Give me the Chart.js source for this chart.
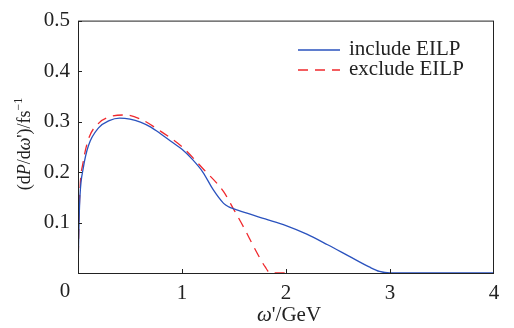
<!DOCTYPE html>
<html>
<head>
<meta charset="utf-8">
<script src="https://cdn.jsdelivr.net/npm/chart.js@4/dist/chart.umd.min.js"></script>
<style>
  html, body { margin: 0; padding: 0; background: #fff; }
  #wrap { width: 514px; height: 328px; position: relative; }
</style>
</head>
<body>
<div id="wrap"><canvas id="chart"></canvas></div>
<script>
// include EILP (blue, solid)
const omegaInclude = [0, 0.01, 0.02, 0.05, 0.1, 0.2, 0.3, 0.4, 0.5, 0.6, 0.7, 0.8, 0.9, 1.0, 1.1, 1.2, 1.3, 1.4, 1.45, 1.5, 1.6, 1.8, 2.0, 2.2, 2.4, 2.6, 2.8, 2.9, 3.0, 3.5, 4.0];
const powerInclude = [0, 0.10, 0.156, 0.207, 0.252, 0.288, 0.302, 0.307, 0.305, 0.299, 0.289, 0.275, 0.26, 0.245, 0.225, 0.2, 0.165, 0.138, 0.131, 0.127, 0.12, 0.107, 0.094, 0.077, 0.056, 0.034, 0.012, 0.003, 0, 0, 0];

// exclude EILP (red, dashed)
const omegaExclude = [0, 0.01, 0.02, 0.05, 0.1, 0.2, 0.3, 0.45, 0.6, 0.8, 1.0, 1.2, 1.4, 1.5, 1.6, 1.7, 1.8, 1.85, 2.0];
const powerExclude = [0, 0.11, 0.17, 0.22, 0.265, 0.297, 0.309, 0.313, 0.305, 0.28, 0.25, 0.207, 0.161, 0.125, 0.088, 0.048, 0.012, 0, 0];

const xTicks = [0, 1, 2, 3, 4];
const yTicks = [0, 0.1, 0.2, 0.3, 0.4, 0.5];
const seriesNames = ['include EILP', 'exclude EILP'];

const serif = '"Liberation Serif", "Times New Roman", serif';

function toPoints(xs, ys){
    return xs.map((x, i) => ({x: x, y: ys[i]}));
}

// box, inward ticks, axis titles, legend
const decorations = {
    id: 'decorations',
    afterDraw(chart){
        const ctx = chart.ctx;
        const a = chart.chartArea;
        const xs = chart.scales.x, ys = chart.scales.y;
        ctx.save();
        ctx.strokeStyle = '#222';
        ctx.lineWidth = 1;
        ctx.strokeRect(a.left + 0.5, a.top + 0.5, a.right - a.left - 1, a.bottom - a.top);
        ctx.beginPath();
        yTicks.forEach(v => {
            if (v === 0) return;
            const py = Math.round(ys.getPixelForValue(v)) + 0.5;
            ctx.moveTo(a.left, py); ctx.lineTo(a.left + 4, py);
        });
        xTicks.forEach(v => {
            if (v === 0 || v === 4) return;
            const px = Math.round(xs.getPixelForValue(v)) + 0.5;
            ctx.moveTo(px, a.bottom); ctx.lineTo(px, a.bottom - 4);
        });
        ctx.stroke();

        ctx.fillStyle = '#222';
        ctx.textBaseline = 'middle';
        // origin label
        ctx.font = '21px ' + serif;
        ctx.textAlign = 'center';
        ctx.fillText('0', 65, 291);

        // x title: ω'/GeV
        const partsX = [['italic 21px ' + serif, 'ω'], ['21px ' + serif, "'/GeV"]];
        drawParts(ctx, partsX, 289, 315);

        // y title: (dP/dω')/fs⁻¹
        ctx.save();
        ctx.translate(25, 144);
        ctx.rotate(-Math.PI / 2);
        const partsY = [['18px ' + serif, '(d'], ['italic 18px ' + serif, 'P'], ['18px ' + serif, '/d'],
                        ['italic 18px ' + serif, 'ω'], ['18px ' + serif, "')/fs"], ['12px ' + serif, '−1', -6]];
        drawParts(ctx, partsY, 0, 0);
        ctx.restore();

        // legend
        ctx.lineWidth = 1.3;
        ctx.strokeStyle = '#2a52be';
        ctx.beginPath(); ctx.moveTo(298, 50); ctx.lineTo(340, 50); ctx.stroke();
        ctx.strokeStyle = '#f0282d';
        ctx.setLineDash([10, 7]);
        ctx.beginPath(); ctx.moveTo(298, 70); ctx.lineTo(340, 70); ctx.stroke();
        ctx.setLineDash([]);
        ctx.font = '21px ' + serif;
        ctx.textAlign = 'left';
        ctx.fillStyle = '#222';
        ctx.fillText(seriesNames[0], 349, 49);
        ctx.fillText(seriesNames[1], 349, 69);
        ctx.restore();
    }
};

function drawParts(ctx, parts, cx, cy){
    let total = 0;
    parts.forEach(p => { ctx.font = p[0]; total += ctx.measureText(p[1]).width; });
    let x = cx - total / 2;
    ctx.textAlign = 'left';
    parts.forEach(p => {
        ctx.font = p[0];
        ctx.fillText(p[1], x, cy + (p[2] || 0));
        x += ctx.measureText(p[1]).width;
    });
}

new Chart(document.getElementById('chart'), {
    type: 'scatter',
    data: {
        datasets: [{
            label: seriesNames[0],
            data: toPoints(omegaInclude, powerInclude),
            showLine: true,
            borderColor: '#2a52be',
            borderWidth: 1.3,
            pointRadius: 0,
            cubicInterpolationMode: 'monotone'
        }, {
            label: seriesNames[1],
            data: toPoints(omegaExclude, powerExclude),
            showLine: true,
            borderColor: '#f0282d',
            borderWidth: 1.3,
            borderDash: [10, 7],
            pointRadius: 0,
            cubicInterpolationMode: 'monotone'
        }]
    },
    options: {
        responsive: true,
        maintainAspectRatio: false,
        animation: false,
        layout: { padding: { left: 0, right: 20, top: 16, bottom: 0 } },
        plugins: { legend: { display: false }, tooltip: { enabled: false } },
        scales: {
            x: {
                type: 'linear', min: 0, max: 4,
                afterBuildTicks: s => { s.ticks = xTicks.map(v => ({value: v})); },
                afterFit: s => { s.height = 55; },
                grid: { display: false, drawTicks: false },
                border: { display: false },
                ticks: {
                    padding: 8, color: '#222',
                    font: { family: serif, size: 21 },
                    callback: v => v === 0 ? '' : v
                }
            },
            y: {
                type: 'linear', min: 0, max: 0.5,
                afterBuildTicks: s => { s.ticks = yTicks.map(v => ({value: v})); },
                afterFit: s => { s.width = 78; },
                grid: { display: false, drawTicks: false },
                border: { display: false },
                ticks: {
                    padding: 8, color: '#222',
                    font: { family: serif, size: 21 },
                    callback: v => v === 0 ? '' : v.toFixed(1)
                }
            }
        }
    },
    plugins: [decorations]
});
</script>
</body>
</html>
